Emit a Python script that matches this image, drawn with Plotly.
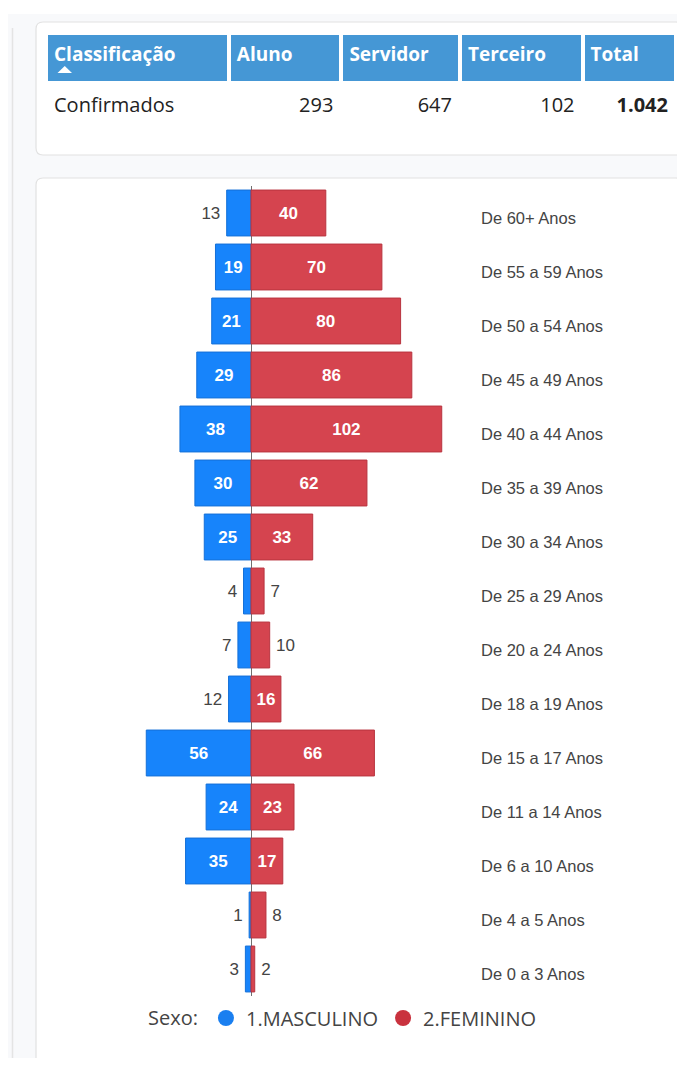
import plotly.graph_objects as go

# ---- data ----
table_header = ["Classificação", "Aluno", "Servidor", "Terceiro", "Total"]
table_row_label = ["Confirmados"]
table_aluno = [293]
table_servidor = [647]
table_terceiro = [102]
table_total = ["1.042"]

age_groups = ["De 0 a 3 Anos", "De 4 a 5 Anos", "De 6 a 10 Anos", "De 11 a 14 Anos",
              "De 15 a 17 Anos", "De 18 a 19 Anos", "De 20 a 24 Anos", "De 25 a 29 Anos",
              "De 30 a 34 Anos", "De 35 a 39 Anos", "De 40 a 44 Anos", "De 45 a 49 Anos",
              "De 50 a 54 Anos", "De 55 a 59 Anos", "De 60+ Anos"]
masculino = [3, 1, 35, 24, 56, 12, 7, 4, 25, 30, 38, 29, 21, 19, 13]
feminino = [2, 8, 17, 23, 66, 16, 10, 7, 33, 62, 102, 86, 80, 70, 40]
series_names = ["1.MASCULINO", "2.FEMININO"]

# page offset (browser body margin) compensation
OFF = 8
W, H = 685 - OFF, 1066 - 2 * OFF
BLUE = "#1784fb"
RED = "#d5444f"


def px(x):
    return (x - OFF) / W


def py(y):
    return 1 - (y - OFF) / H


fig = go.Figure()

# ---- table ----
hdr = ["<b>" + h + "</b>" for h in table_header]


def span(v):
    return "<span>" + str(v) + "</span>"


fig.add_trace(go.Table(
    domain=dict(x=[px(46), px(676)], y=[py(135), py(33)]),
    columnwidth=[182, 112, 118, 122, 93],
    header=dict(
        values=hdr,
        fill_color="#4597d5",
        line=dict(color="white", width=4),
        align="left",
        height=50,
        font=dict(family="Open Sans", size=19, color="white"),
    ),
    cells=dict(
        values=[[span(v) for v in table_row_label], [span(v) for v in table_aluno],
                [span(v) for v in table_servidor], [span(v) for v in table_terceiro],
                ["<b>" + t + "</b>" for t in table_total]],
        fill_color="white",
        line=dict(color="white", width=1),
        align=["left", "right", "right", "right", "right"],
        height=44,
        font=dict(family="Open Sans", size=20, color="#222"),
    ),
))

# ---- bars ----
m_pos = ["inside" if v >= 15 else "outside" for v in masculino]
f_pos = ["inside" if v >= 15 else "outside" for v in feminino]
m_txt = [str(v) if v >= 15 else str(v) + "\u2009" for v in masculino]
f_txt = [str(v) if v >= 15 else "\u2009" + str(v) for v in feminino]

fig.add_trace(go.Bar(
    y=age_groups, x=[-v for v in masculino], orientation="h",
    name=series_names[0], showlegend=False,
    marker=dict(color=BLUE, line=dict(color="#1470d8", width=1)),
    text=m_txt, textposition=m_pos,
    insidetextanchor="middle", constraintext="none", textangle=0,
    insidetextfont=dict(family="Liberation Sans", size=17, color="white", weight="bold"),
    outsidetextfont=dict(family="Liberation Sans", size=17, color="#444"),
    hoverinfo="skip",
))
fig.add_trace(go.Bar(
    y=age_groups, x=feminino, orientation="h",
    name=series_names[1], showlegend=False,
    marker=dict(color=RED, line=dict(color="#b8343f", width=1)),
    text=f_txt, textposition=f_pos,
    insidetextanchor="middle", constraintext="none", textangle=0,
    insidetextfont=dict(family="Liberation Sans", size=17, color="white", weight="bold"),
    outsidetextfont=dict(family="Liberation Sans", size=17, color="#444"),
    hoverinfo="skip",
))

# legend entries as circles
for nm, col in zip(series_names, ["#1a7ff0", "#c9323e"]):
    fig.add_trace(go.Scatter(x=[None], y=[None], mode="markers", name=nm,
                             marker=dict(color=col, size=17, symbol="circle")))


# ---- background cards ----
def rrect(x0, y0, x1, y1, r=7):
    rx, ry = r / W, r / H
    X0, X1, Y0, Y1 = px(x0), px(x1), py(y0), py(y1)
    return (f"M {X0+rx},{Y0} L {X1-rx},{Y0} Q {X1},{Y0} {X1},{Y0-ry} "
            f"L {X1},{Y1+ry} Q {X1},{Y1} {X1-rx},{Y1} L {X0+rx},{Y1} "
            f"Q {X0},{Y1} {X0},{Y1+ry} L {X0},{Y0-ry} Q {X0},{Y0} {X0+rx},{Y0} Z")


def tri(x0, x1, ytop, ybot):
    xm = (x0 + x1) / 2
    return f"M {px(x0)},{py(ybot)} L {px(x1)},{py(ybot)} L {px(xm)},{py(ytop)} Z"


shapes = [
    dict(type="rect", xref="paper", yref="paper", x0=0, x1=1, y0=-0.05, y1=py(14),
         fillcolor="#f8f9fb", line=dict(width=0), layer="below"),
    dict(type="line", xref="paper", yref="paper", x0=px(12.5), x1=px(12.5), y0=-0.05, y1=py(28),
         line=dict(color="#e4e4e4", width=1.5), layer="below"),
    dict(type="path", xref="paper", yref="paper", path=rrect(36, 22, 683, 155),
         fillcolor="white", line=dict(color="#e2e2e2", width=1.2), layer="below"),
    dict(type="path", xref="paper", yref="paper", path=rrect(36, 178, 683, 1100),
         fillcolor="white", line=dict(color="#e2e2e2", width=1.2), layer="below"),
    # sort indicator under the first header
    dict(type="path", xref="paper", yref="paper", path=tri(57.5, 72, 66, 73),
         fillcolor="white", line=dict(width=0), layer="above"),
]

fig.update_layout(
    width=W, height=H,
    margin=dict(l=0, r=0, t=0, b=0),
    paper_bgcolor="white", plot_bgcolor="rgba(0,0,0,0)",
    barmode="relative", bargap=0.15,
    shapes=shapes,
    xaxis=dict(domain=[px(60), px(477)], range=[-(251 - 60) / 1.87, (477 - 251) / 1.87],
               showgrid=False, showticklabels=False, zeroline=True,
               zerolinecolor="#707070", zerolinewidth=1, fixedrange=True),
    yaxis=dict(domain=[py(996), py(186)], side="right", showgrid=False, zeroline=False,
               categoryorder="array", categoryarray=age_groups, ticks="",
               tickfont=dict(family="Liberation Sans", size=16.5, color="#444"),
               ticklabelstandoff=3, ticklabelshift=5, fixedrange=True),
    legend=dict(orientation="h", x=px(146), xanchor="left", y=py(1018), yanchor="middle",
                title=dict(text="Sexo:", font=dict(family="Open Sans", size=20, color="#444")),
                font=dict(family="Open Sans", size=20, color="#444"),
                itemwidth=30, bgcolor="rgba(0,0,0,0)", traceorder="normal"),
    showlegend=True,
)

fig.write_html("out.html")
